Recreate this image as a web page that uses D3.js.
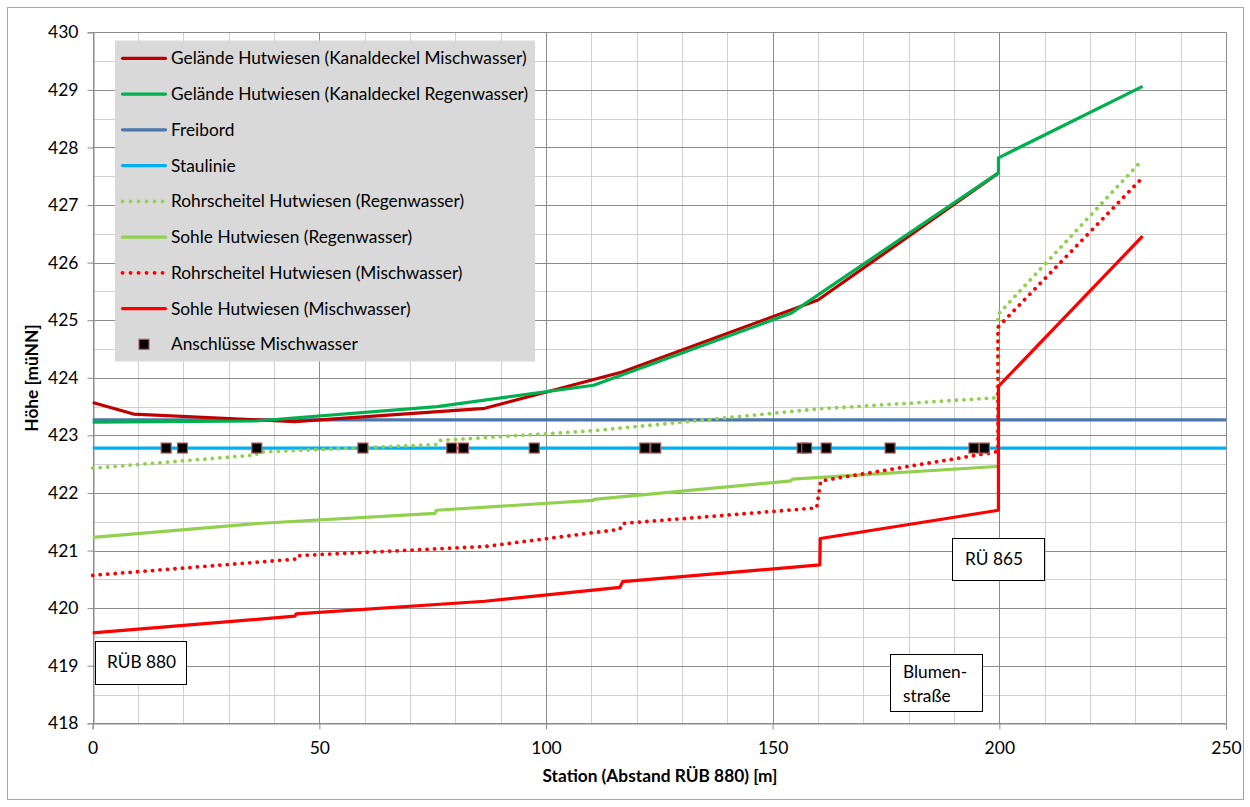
<!DOCTYPE html>
<html>
<head>
<meta charset="utf-8">
<script src="https://cdn.jsdelivr.net/npm/d3@7"></script>
<style>
  body { margin: 0; background: #fff; }
  svg { display: block; font-family: Lato, "Open Sans", sans-serif; }
</style>
</head>
<body>
<svg id="chart" width="1250" height="807"></svg>
<script>
// Längsschnitt Hutwiesen: Station [m] gegen Höhe [müNN]
const xTicks = [0, 50, 100, 150, 200, 250];
const yTicks = [418, 419, 420, 421, 422, 423, 424, 425, 426, 427, 428, 429, 430];

const gelaendeMisch = [[0, 423.57], [9, 423.37], [44.6, 423.24], [86.5, 423.47], [116.8, 424.1], [160, 425.35], [199.7, 427.55]];
const gelaendeRegen = [[0, 423.23], [36, 423.25], [76, 423.5], [110.5, 423.87], [154, 425.12], [199.8, 427.56], [199.8, 427.82], [231.6, 429.06]];
const freibord = [[0, 423.27], [250, 423.27]];
const staulinie = [[0, 422.78], [250, 422.78]];
const scheitelRegen = [[0, 422.43], [36, 422.66], [36.5, 422.71], [75.9, 422.84], [76.3, 422.91], [110.4, 423.08], [160, 423.46], [198.7, 423.65], [199.7, 423.65], [199.7, 425.1], [231.5, 427.78]];
const sohleRegen = [[0, 421.23], [36.2, 421.47], [75.5, 421.645], [75.8, 421.70], [110.4, 421.87], [110.6, 421.89], [154, 422.21], [154.3, 422.24], [199.5, 422.46]];
const scheitelMisch = [[0, 420.57], [44.6, 420.85], [44.9, 420.91], [86.5, 421.07], [116.3, 421.37], [116.8, 421.47], [159.7, 421.74], [160.6, 422.21], [198.3, 422.70], [199.7, 422.72], [199.7, 424.88], [231.4, 427.46]];
const sohleMisch = [[0, 419.57], [44.6, 419.86], [44.9, 419.90], [86.5, 420.12], [116.3, 420.36], [116.9, 420.46], [160.4, 420.75], [160.5, 421.21], [199.8, 421.70], [199.8, 423.85], [231.6, 426.46]];
const anschluesseX = [16.2, 19.8, 36.2, 59.6, 79.2, 81.8, 97.4, 121.8, 124.2, 156.5, 157.5, 161.8, 175.9, 194.4, 196.7];
const anschluesseY = 422.78;

const series = [
  { name: "Gelände Hutwiesen (Kanaldeckel Mischwasser)", data: gelaendeMisch, color: "#c00000", dotted: false },
  { name: "Gelände Hutwiesen (Kanaldeckel Regenwasser)", data: gelaendeRegen, color: "#00b050", dotted: false },
  { name: "Freibord", data: freibord, color: "#4a76ac", dotted: false },
  { name: "Staulinie", data: staulinie, color: "#00b0f0", dotted: false },
  { name: "Rohrscheitel Hutwiesen (Regenwasser)", data: scheitelRegen, color: "#92d050", dotted: true },
  { name: "Sohle Hutwiesen (Regenwasser)", data: sohleRegen, color: "#92d050", dotted: false },
  { name: "Rohrscheitel Hutwiesen (Mischwasser)", data: scheitelMisch, color: "#ff0000", dotted: true },
  { name: "Sohle Hutwiesen (Mischwasser)", data: sohleMisch, color: "#ff0000", dotted: false }
];
const drawOrder = [2, 3, 5, 4, 7, 6, 0, 1];

const svg = d3.select("#chart");
const plot = { left: 92.7, right: 1226, top: 32.3, bottom: 723.3 };
const labelSize = "17.3px";

const x = d3.scaleLinear().domain([0, 250]).range([plot.left, plot.right]);
const y = d3.scaleLinear().domain([418, 430]).range([plot.bottom, plot.top]);

// outer frame
svg.append("rect").attr("x", 7.5).attr("y", 7.5).attr("width", 1236).attr("height", 792)
  .attr("fill", "#fff").attr("stroke", "#a6a6a6").attr("stroke-width", 1);

// grid: minor first, then major
const g = svg.append("g");
g.selectAll(".ymin").data(d3.range(418.5, 430, 1)).join("line")
  .attr("x1", plot.left).attr("x2", plot.right)
  .attr("y1", d => Math.round(y(d)) + 0.5).attr("y2", d => Math.round(y(d)) + 0.5)
  .attr("stroke", "#d0d0d0").attr("stroke-width", 1);
g.selectAll(".xmin").data(d3.range(10, 250, 10).filter(v => v % 50 !== 0)).join("line")
  .attr("y1", plot.top).attr("y2", plot.bottom)
  .attr("x1", d => Math.round(x(d)) + 0.5).attr("x2", d => Math.round(x(d)) + 0.5)
  .attr("stroke", "#d0d0d0").attr("stroke-width", 1);
g.selectAll(".ymaj").data(yTicks).join("line")
  .attr("x1", plot.left).attr("x2", plot.right)
  .attr("y1", d => Math.round(y(d)) + 0.5).attr("y2", d => Math.round(y(d)) + 0.5)
  .attr("stroke", "#8c8c8c").attr("stroke-width", 1);
g.selectAll(".xmaj").data(xTicks).join("line")
  .attr("y1", plot.top).attr("y2", plot.bottom)
  .attr("x1", d => Math.round(x(d)) + 0.5).attr("x2", d => Math.round(x(d)) + 0.5)
  .attr("stroke", "#8c8c8c").attr("stroke-width", 1);

// axes
const yAxis = d3.axisLeft(y).tickValues(yTicks).tickSize(6).tickPadding(9).tickFormat(d3.format("d"));
const xAxis = d3.axisBottom(x).tickValues(xTicks).tickSize(6).tickPadding(12).tickFormat(d3.format("d"));
const ya = svg.append("g").attr("transform", `translate(${Math.round(plot.left) + 0.5},0)`).call(yAxis);
const xa = svg.append("g").attr("transform", `translate(0,${Math.round(plot.bottom) + 0.5})`).call(xAxis);
[ya, xa].forEach(a => {
  a.select(".domain").attr("stroke", "#8c8c8c");
  a.selectAll(".tick line").attr("stroke", "#8c8c8c");
  a.selectAll(".tick text").attr("fill", "#000").style("font-size", "17.5px").style("font-family", "Lato, sans-serif");
});

// axis titles
svg.append("text").attr("x", 660).attr("y", 782).attr("text-anchor", "middle")
  .style("font-size", labelSize).style("font-weight", "bold").text("Station (Abstand RÜB 880) [m]");
svg.append("text").attr("transform", "translate(38,378) rotate(-90)").attr("text-anchor", "middle")
  .style("font-size", labelSize).style("font-weight", "bold").text("Höhe [müNN]");

// series lines
const line = d3.line().x(d => x(d[0])).y(d => y(d[1]));
const lines = svg.append("g");
drawOrder.forEach(i => {
  const s = series[i];
  lines.append("path").datum(s.data).attr("d", line)
    .attr("fill", "none").attr("stroke", s.color)
    .attr("stroke-width", s.dotted ? 3.8 : 3.2)
    .attr("stroke-linejoin", "round")
    .attr("stroke-linecap", s.dotted ? "round" : "butt")
    .attr("stroke-dasharray", s.dotted ? "0.1 7.4" : null);
});

// Anschlüsse Mischwasser markers
svg.append("g").selectAll("rect").data(anschluesseX).join("rect")
  .attr("x", d => x(d) - 5).attr("y", y(anschluesseY) - 5)
  .attr("width", 10).attr("height", 10)
  .attr("fill", "#000").attr("stroke", "#b05a5a").attr("stroke-width", 1.2);

// label boxes
function box(x0, y0, w, h, linesTxt, tx, ty, lh) {
  svg.append("rect").attr("x", x0 + 0.5).attr("y", y0 + 0.5).attr("width", w).attr("height", h)
    .attr("fill", "#fff").attr("stroke", "#000").attr("stroke-width", 1);
  linesTxt.forEach((t, k) => {
    svg.append("text").attr("x", tx).attr("y", ty + k * lh).style("font-size", labelSize).text(t);
  });
}
box(95, 641, 91, 43, ["RÜB 880"], 107, 668, 0);
box(952, 538, 92, 42, ["RÜ 865"], 965, 565, 0);
box(890, 654, 92, 57, ["Blumen-", "straße"], 903, 678, 24);

// legend
const lg = svg.append("g");
lg.append("rect").attr("x", 115).attr("y", 40.5).attr("width", 420).attr("height", 321).attr("fill", "#d9d9d9");
const legendTop = 58.3, legendStep = 35.75;
series.forEach((s, i) => {
  const ly = legendTop + i * legendStep;
  lg.append("line").attr("x1", 122.5).attr("x2", 165.5).attr("y1", ly).attr("y2", ly)
    .attr("stroke", s.color).attr("stroke-width", s.dotted ? 3.8 : 3.2)
    .attr("stroke-linecap", "round")
    .attr("stroke-dasharray", s.dotted ? "0.1 7.9" : null);
  lg.append("text").attr("x", 171).attr("y", ly).attr("dy", "0.35em")
    .style("font-size", labelSize).text(s.name);
});
const my = legendTop + 8 * legendStep;
lg.append("rect").attr("x", 139).attr("y", my - 5).attr("width", 10).attr("height", 10)
  .attr("fill", "#000").attr("stroke", "#b05a5a").attr("stroke-width", 1.2);
lg.append("text").attr("x", 171).attr("y", my).attr("dy", "0.35em")
  .style("font-size", labelSize).text("Anschlüsse Mischwasser");
</script>
</body>
</html>
